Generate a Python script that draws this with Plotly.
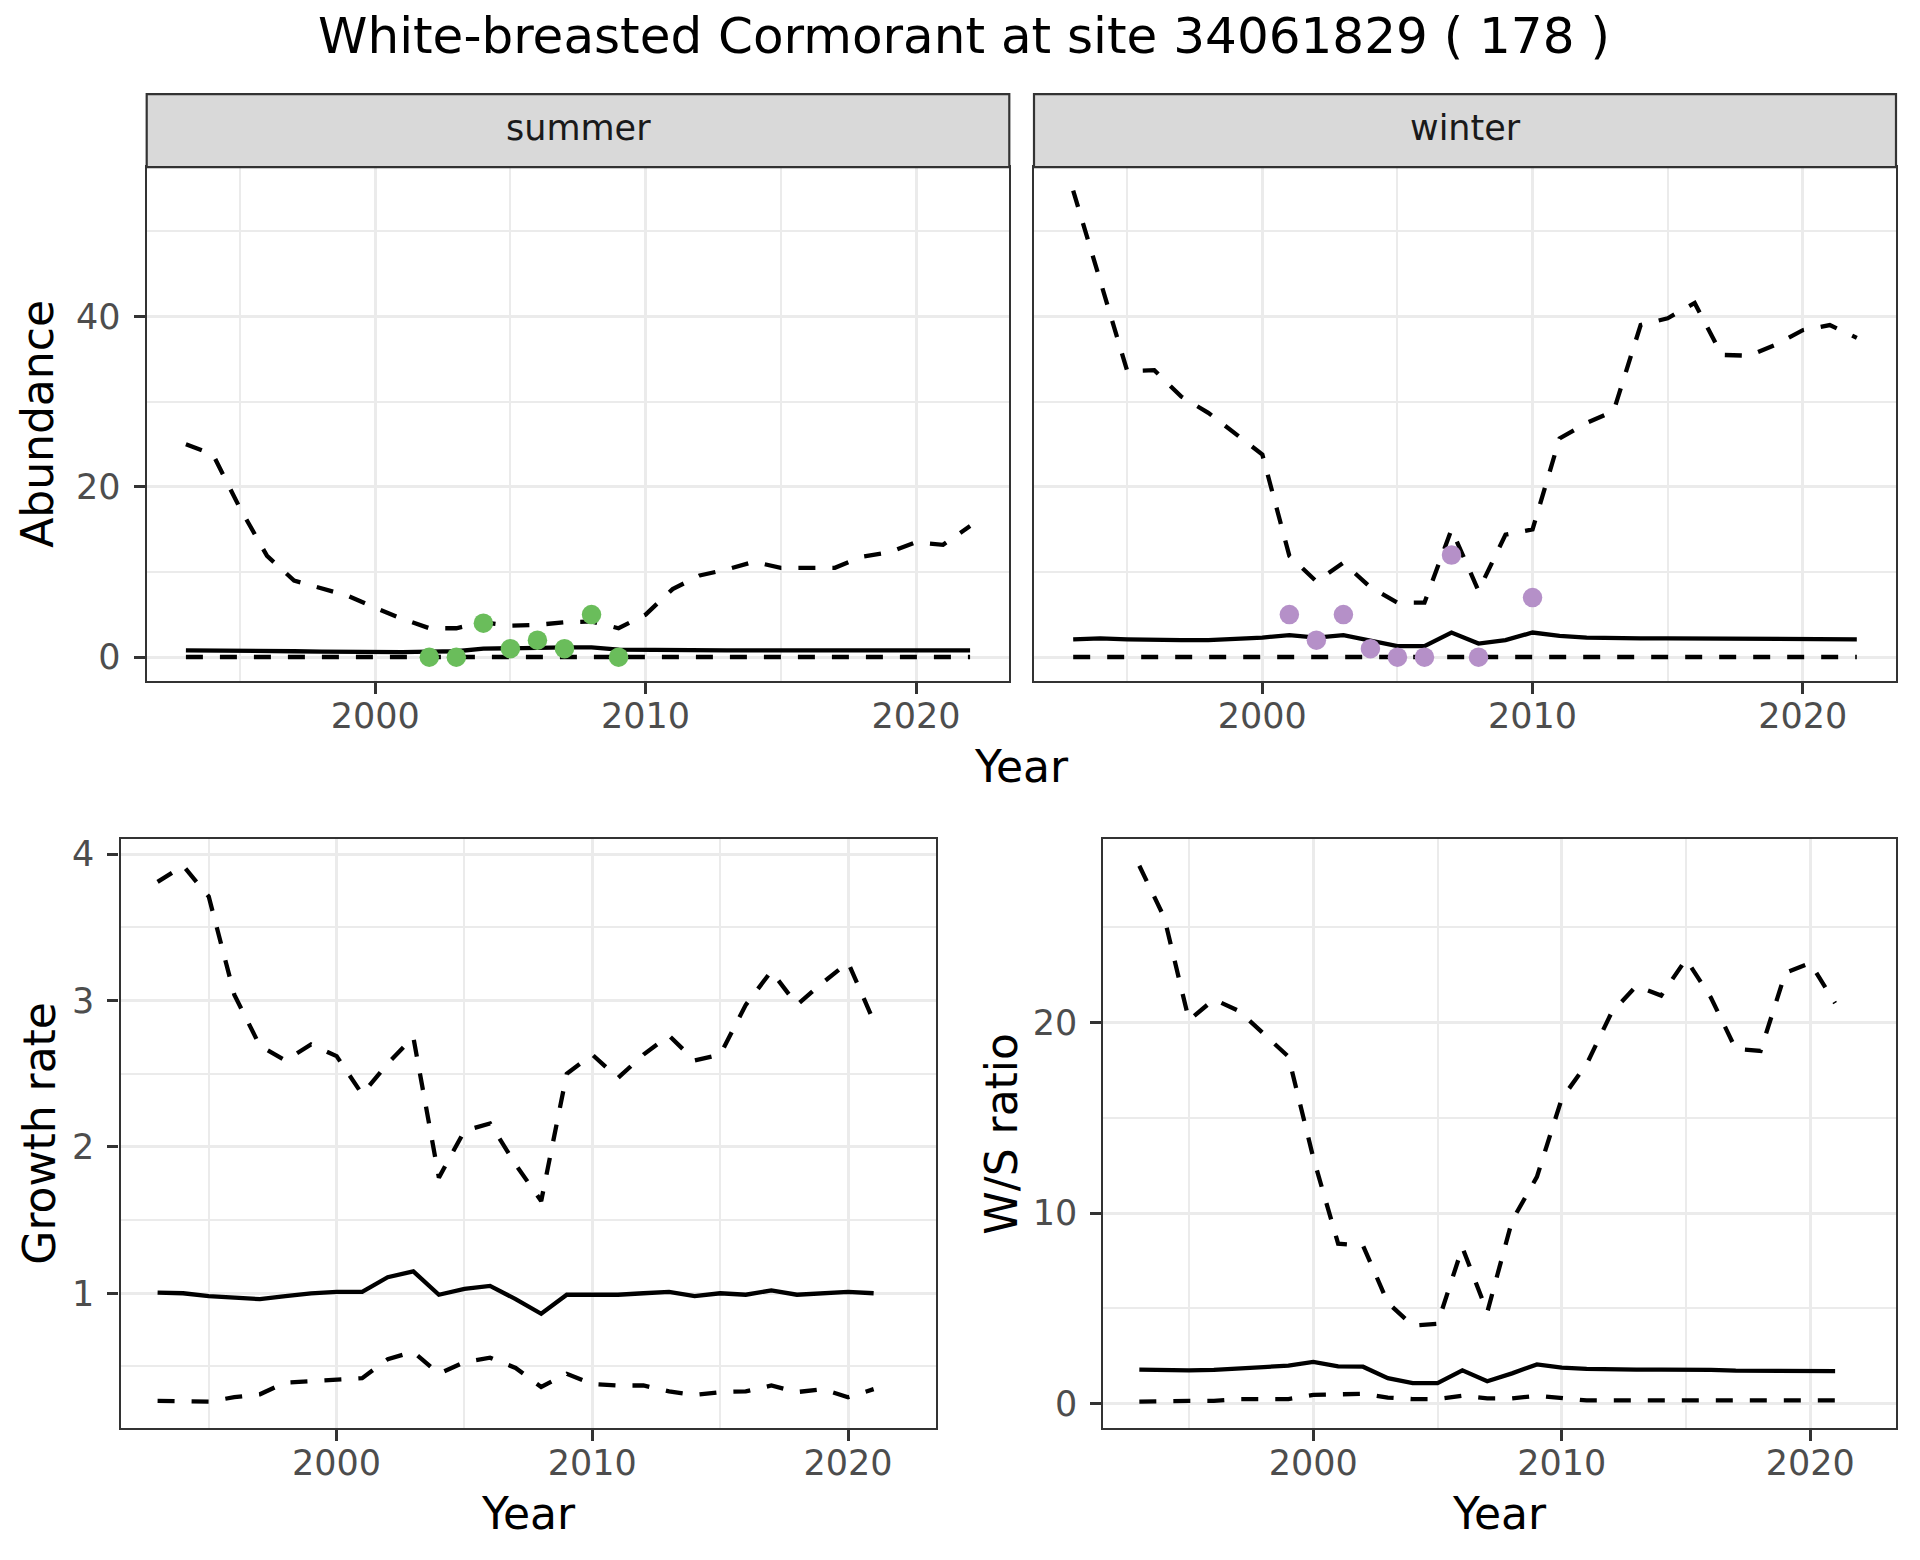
import plotly.graph_objects as go

# page has an 8px body margin; figure is sized so the page fits the 1920x1560 window
OFF = 8
W, H = 1900, 1540

# ---------------- data ----------------
years_ab = list(range(1993, 2023))
summer_upper = [25.0, 23.8, 17.5, 11.9, 9.0, 8.1, 7.2, 5.8, 4.5, 3.4, 3.4, 4.1, 3.7, 3.8, 4.1,
                4.2, 3.4, 5.0, 8.0, 9.6, 10.3, 11.2, 10.5, 10.5, 10.5, 11.8, 12.3, 13.5, 13.2, 15.4]
summer_mid = [0.8, 0.8, 0.8, 0.75, 0.7, 0.65, 0.6, 0.6, 0.6, 0.65, 0.7, 1.0, 1.1, 1.1, 1.15,
              1.15, 0.9, 0.85, 0.85, 0.8, 0.8, 0.8, 0.8, 0.75, 0.75, 0.8, 0.8, 0.8, 0.8, 0.8]
summer_lower = [0.02, 0.02, 0.02, 0.02, 0.02, 0.02, 0.02, 0.02, 0.02, 0.03, 0.03, 0.04, 0.04, 0.04, 0.04,
                0.04, 0.03, 0.03, 0.02, 0.02, 0.02, 0.02, 0.02, 0.02, 0.02, 0.02, 0.02, 0.02, 0.02, 0.02]
winter_upper = [54.8, 44.0, 33.6, 33.7, 30.6, 28.7, 26.3, 23.8, 11.9, 8.9, 11.1, 8.2, 6.4, 6.4, 15.0,
                7.8, 14.4, 15.0, 25.7, 27.5, 28.9, 39.0, 39.8, 41.6, 35.5, 35.4, 36.7, 38.4, 39.0, 37.5]
winter_mid = [2.1, 2.2, 2.1, 2.0, 2.0, 2.0, 2.1, 2.3, 2.6, 2.3, 2.6, 1.9, 1.3, 1.3, 2.9,
              1.6, 2.0, 2.9, 2.5, 2.3, 2.2, 2.2, 2.2, 2.2, 2.1, 2.1, 2.1, 2.1, 2.1, 2.1]
winter_lower = [0.02, 0.02, 0.02, 0.02, 0.02, 0.02, 0.03, 0.04, 0.06, 0.08, 0.12, 0.10, 0.08, 0.10, 0.08,
                0.06, 0.05, 0.04, 0.03, 0.03, 0.02, 0.02, 0.02, 0.02, 0.02, 0.02, 0.02, 0.02, 0.02, 0.02]

summer_obs_years = [2002, 2003, 2004, 2005, 2006, 2007, 2008, 2009]
summer_obs = [0, 0, 4, 1, 2, 1, 5, 0]
winter_obs_years = [2001, 2002, 2003, 2004, 2005, 2006, 2007, 2008, 2010]
winter_obs = [5, 2, 5, 1, 0, 0, 12, 0, 7]

years_gr = list(range(1993, 2022))
growth_upper = [3.81, 3.92, 3.71, 3.04, 2.69, 2.59, 2.70, 2.62, 2.36, 2.57, 2.75, 1.79, 2.11, 2.16, 1.88,
                1.63, 2.50, 2.63, 2.47, 2.63, 2.76, 2.59, 2.63, 2.97, 3.20, 2.97, 3.12, 3.26, 2.86]
growth_mid = [1.005, 1.0, 0.98, 0.97, 0.96, 0.98, 1.0, 1.01, 1.01, 1.11, 1.15, 0.99, 1.03, 1.05, 0.96,
              0.86, 0.99, 0.99, 0.99, 1.0, 1.01, 0.98, 1.0, 0.99, 1.02, 0.99, 1.0, 1.01, 1.0]
growth_lower = [0.265, 0.265, 0.26, 0.29, 0.31, 0.39, 0.40, 0.41, 0.42, 0.55, 0.60, 0.45, 0.53, 0.56, 0.49,
                0.36, 0.45, 0.38, 0.37, 0.37, 0.33, 0.305, 0.325, 0.33, 0.37, 0.325, 0.345, 0.29, 0.345]

ws_upper = [28.2, 25.5, 20.1, 21.2, 20.6, 19.4, 18.2, 12.9, 8.4, 8.3, 5.3, 4.1, 4.2, 8.2, 4.8,
            9.6, 11.9, 16.0, 17.8, 20.5, 21.9, 21.4, 23.3, 21.3, 18.6, 18.5, 22.6, 23.1, 21.0]
ws_mid = [1.8, 1.76, 1.76, 1.78, 1.83, 1.93, 2.0, 2.2, 1.97, 1.95, 1.35, 1.09, 1.09, 1.76, 1.19,
          1.6, 2.07, 1.9, 1.83, 1.8, 1.8, 1.8, 1.8, 1.78, 1.74, 1.74, 1.76, 1.74, 1.72]
ws_lower = [0.12, 0.16, 0.16, 0.16, 0.25, 0.25, 0.25, 0.47, 0.51, 0.53, 0.33, 0.25, 0.25, 0.43, 0.29,
            0.29, 0.43, 0.29, 0.18, 0.18, 0.18, 0.18, 0.18, 0.18, 0.18, 0.18, 0.18, 0.18, 0.18]

title_text = "White-breasted Cormorant at site 34061829 ( 178 )"
facet_labels = ["summer", "winter"]
x_major = [2000, 2010, 2020]
x_minor = [1995, 2005, 2015]

# ---------------- styling ----------------
FONT = "DejaVu Sans"
GRID = "#EBEBEB"
BORDER = "#333333"
TICKC = "#4D4D4D"
GREEN = "#6ABD5B"
PURPLE = "#B590C8"
LW = 4.3
DASH = "17px,17px"


def fx(p):
    return (p - OFF) / W


def fy(p):
    return 1 - (p - OFF) / H


def expand(vals, mult=0.05):
    lo, hi = min(vals), max(vals)
    d = (hi - lo) * mult
    return [lo - d, hi + d]


# panel pixel boxes in window coordinates (left, right, top, bottom)
P1 = (146.7, 1009.3, 162.7, 677.7)
P2 = (1034.0, 1896.0, 162.7, 677.7)
P3 = (120.5, 936.3, 836.7, 1428.0)
P4 = (1103.3, 1896.0, 836.7, 1428.0)
STRIP_TOP = 89.3

fig = go.Figure()


def add_band(xs, up, mid, lo, xa, ya):
    for vals, dash in ((lo, DASH), (up, DASH), (mid, "solid")):
        fig.add_trace(go.Scatter(x=xs, y=vals, mode="lines", xaxis=xa, yaxis=ya,
                                 line=dict(color="black", width=LW, dash=dash),
                                 showlegend=False, hoverinfo="skip"))


add_band(years_ab, summer_upper, summer_mid, summer_lower, "x", "y")
fig.add_trace(go.Scatter(x=summer_obs_years, y=summer_obs, mode="markers", xaxis="x", yaxis="y",
                         marker=dict(color=GREEN, size=19.5, line=dict(width=0)), showlegend=False))
add_band(years_ab, winter_upper, winter_mid, winter_lower, "x2", "y2")
fig.add_trace(go.Scatter(x=winter_obs_years, y=winter_obs, mode="markers", xaxis="x2", yaxis="y2",
                         marker=dict(color=PURPLE, size=19.5, line=dict(width=0)), showlegend=False))
add_band(years_gr, growth_upper, growth_mid, growth_lower, "x3", "y3")
add_band(years_gr, ws_upper, ws_mid, ws_lower, "x4", "y4")

ab_all = summer_upper + winter_upper + summer_lower + winter_lower + summer_obs + winter_obs
ab_range = expand(ab_all)
gr_range = expand(growth_upper + growth_lower + growth_mid)
ws_range = expand(ws_upper + ws_lower + ws_mid)
# all four panels share the same year span on the x axis
x_range = expand(years_ab)


def xaxis(box, rng, anchor):
    return dict(domain=[fx(box[0]), fx(box[1])], range=rng, anchor=anchor,
                tickmode="array", tickvals=x_major, ticktext=[str(v) for v in x_major],
                showgrid=True, gridcolor=GRID, gridwidth=3,
                minor=dict(tickmode="array", tickvals=x_minor, showgrid=True, gridcolor=GRID,
                           gridwidth=1.6, ticks=""),
                showline=True, mirror=True, linecolor=BORDER, linewidth=2.2,
                ticks="outside", ticklen=11, tickwidth=2.6, tickcolor=BORDER,
                tickfont=dict(family=FONT, size=35, color=TICKC),
                ticklabelstandoff=-8, zeroline=False)


def yaxis(box, rng, anchor, major, minor, labels=True):
    return dict(domain=[fy(box[3]), fy(box[2])], range=rng, anchor=anchor,
                tickmode="array", tickvals=major, ticktext=[("%g" % v) for v in major],
                showgrid=True, gridcolor=GRID, gridwidth=3,
                minor=dict(tickmode="array", tickvals=minor, showgrid=True, gridcolor=GRID,
                           gridwidth=1.6, ticks=""),
                showline=True, mirror=True, linecolor=BORDER, linewidth=2.2,
                ticks="outside" if labels else "", ticklen=11, tickwidth=2.6, tickcolor=BORDER,
                tickfont=dict(family=FONT, size=35, color=TICKC),
                showticklabels=labels, ticklabelstandoff=6, zeroline=False)


fig.update_layout(
    width=W, height=H,
    margin=dict(l=0, r=0, t=0, b=0),
    paper_bgcolor="white", plot_bgcolor="white",
    showlegend=False,
    xaxis=xaxis(P1, x_range, "y"),
    xaxis2=xaxis(P2, x_range, "y2"),
    xaxis3=xaxis(P3, x_range, "y3"),
    xaxis4=xaxis(P4, x_range, "y4"),
    yaxis=yaxis(P1, ab_range, "x", [0, 20, 40], [10, 30, 50]),
    yaxis2=yaxis(P2, ab_range, "x2", [0, 20, 40], [10, 30, 50], labels=False),
    yaxis3=yaxis(P3, gr_range, "x3", [1, 2, 3, 4], [0.5, 1.5, 2.5, 3.5]),
    yaxis4=yaxis(P4, ws_range, "x4", [0, 10, 20], [5, 15, 25]),
)

shapes = []
annotations = []
for box, lab in ((P1, facet_labels[0]), (P2, facet_labels[1])):
    shapes.append(dict(type="rect", xref="paper", yref="paper",
                       x0=fx(box[0]), x1=fx(box[1]), y0=fy(box[2]), y1=fy(STRIP_TOP),
                       fillcolor="#D9D9D9", line=dict(color=BORDER, width=2.2), layer="above"))
    annotations.append(dict(text=lab, xref="paper", yref="paper",
                            x=fx((box[0] + box[1]) / 2), y=fy((STRIP_TOP + box[2]) / 2 - 3),
                            xanchor="center", yanchor="middle", showarrow=False,
                            font=dict(family=FONT, size=35, color="#1A1A1A")))


def label(text, x, y, size, angle=0, color="black"):
    annotations.append(dict(text=text, xref="paper", yref="paper", x=fx(x), y=fy(y),
                            xanchor="center", yanchor="middle", showarrow=False, textangle=angle,
                            font=dict(family=FONT, size=size, color=color)))


label(title_text, 964, 31, 50)
label("Year", (P1[0] + P2[1]) / 2, 764, 44)
label("Year", (P3[0] + P3[1]) / 2, 1513, 44)
label("Year", (P4[0] + P4[1]) / 2, 1513, 44)
label("Abundance", 38, (P1[2] + P1[3]) / 2, 44, angle=-90)
label("Growth rate", 40, (P3[2] + P3[3]) / 2, 44, angle=-90)
label("W/S ratio", 1002, (P4[2] + P4[3]) / 2, 44, angle=-90)

fig.update_layout(shapes=shapes, annotations=annotations)

fig.write_html("out.html")
